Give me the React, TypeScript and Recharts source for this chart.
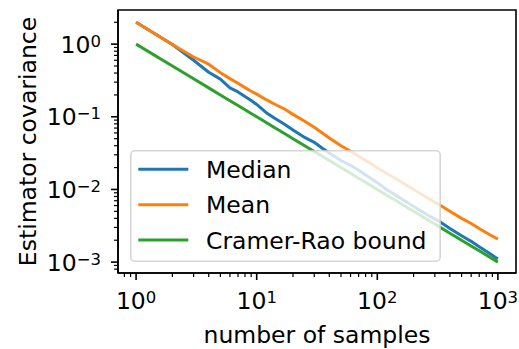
import React from 'react';
import { LineChart, Line, XAxis, YAxis, Legend, ReferenceArea } from 'recharts';

const samples = [1, 2, 3, 4, 5, 6, 7, 8, 9, 10, 12, 14, 17, 20, 25, 30, 35, 40, 50, 60, 70, 85, 100, 120, 150, 180, 220, 270, 330, 400, 500, 600, 700, 850, 1000];
const medianVar = [2.0, 0.99, 0.6, 0.41, 0.33, 0.25, 0.22, 0.19, 0.168, 0.148, 0.114, 0.096, 0.079, 0.066, 0.052, 0.0445, 0.037, 0.0318, 0.025, 0.0215, 0.0184, 0.0148, 0.0124, 0.0099, 0.0079, 0.0065, 0.0053, 0.0043, 0.0036, 0.0029, 0.0023, 0.00193, 0.00163, 0.00132, 0.0011];
const meanVar = [2.0, 0.99, 0.665, 0.53, 0.405, 0.335, 0.29, 0.252, 0.225, 0.205, 0.172, 0.15, 0.128, 0.108, 0.087, 0.072, 0.06, 0.051, 0.04, 0.0335, 0.0286, 0.0236, 0.0199, 0.0166, 0.0134, 0.0111, 0.0091, 0.0074, 0.0061, 0.005, 0.004, 0.0034, 0.0029, 0.0024, 0.00207];
const cramerRao = [1, 0.5, 0.3333, 0.25, 0.2, 0.1667, 0.1429, 0.125, 0.1111, 0.1, 0.0833, 0.0714, 0.0588, 0.05, 0.04, 0.0333, 0.0286, 0.025, 0.02, 0.0167, 0.0143, 0.0118, 0.01, 0.00833, 0.00667, 0.00556, 0.00455, 0.0037, 0.00303, 0.0025, 0.002, 0.00167, 0.00143, 0.00118, 0.001];

const seriesNames = ['Median', 'Mean', 'Cramer-Rao bound'];
const seriesColors = ['#1f77b4', '#ff7f0e', '#2ca02c'];

const xMajorTicks = [1, 10, 100, 1000];
const xMajorExp = ['0', '1', '2', '3'];
const xMinorTicks = [0.8, 0.9, 2, 3, 4, 5, 6, 7, 8, 9, 20, 30, 40, 50, 60, 70, 80, 90, 200, 300, 400, 500, 600, 700, 800, 900];
const yMajorTicks = [0.001, 0.01, 0.1, 1];
const yMajorExp = ['\u22123', '\u22122', '\u22121', '0'];
const yMinorTicks = [0.0008, 0.0009, 0.002, 0.003, 0.004, 0.005, 0.006, 0.007, 0.008, 0.009, 0.02, 0.03, 0.04, 0.05, 0.06, 0.07, 0.08, 0.09, 0.2, 0.3, 0.4, 0.5, 0.6, 0.7, 0.8, 0.9, 2];

const xDomain = [0.708, 1413];
const yDomain = [0.000708, 2.95];

const xLabel = 'number of samples';
const yLabel = 'Estimator covariance';

const FONT = '"DejaVu Sans", sans-serif';
const FS = 23.5;

const data = samples.map((n, i) => ({
  n,
  median: medianVar[i],
  mean: meanVar[i],
  crb: cramerRao[i],
}));

const XTick = (props: any) => {
  const { x, y, payload } = props;
  const idx = xMajorTicks.indexOf(payload.value);
  const major = idx >= 0;
  return (
    <g>
      <line x1={x} x2={x} y1={y} y2={y + (major ? 7 : 4)} stroke="#000" strokeWidth={major ? 1.6 : 1.2} />
      {major && (
        <text x={x} y={y + 36.3} textAnchor="middle" fontFamily={FONT} fontSize={FS} fill="#000">
          <tspan>10</tspan>
          <tspan dy={-6} fontSize={16.5}>{xMajorExp[idx]}</tspan>
        </text>
      )}
    </g>
  );
};

const YTick = (props: any) => {
  const { x, y, payload } = props;
  const idx = yMajorTicks.indexOf(payload.value);
  const major = idx >= 0;
  return (
    <g>
      <line x1={x} x2={x - (major ? 7 : 4)} y1={y} y2={y} stroke="#000" strokeWidth={major ? 1.6 : 1.2} />
      {major && (
        <text x={x - 17} y={y + 8.5} textAnchor="end" fontFamily={FONT} fontSize={FS} fill="#000">
          <tspan>10</tspan>
          <tspan dy={-6} fontSize={16.5}>{yMajorExp[idx]}</tspan>
        </text>
      )}
    </g>
  );
};

const LegendBox = () => (
  <svg width={311} height={112} style={{ display: 'block' }}>
    <rect x={0.8} y={0.8} width={309.4} height={110.4} rx={4} ry={4} fill="#ffffff" fillOpacity={0.8} stroke="#cccccc" strokeOpacity={0.8} strokeWidth={1.6} />
    {seriesNames.map((name, i) => {
      const cy = 19.3 + i * 35.4;
      return (
        <g key={name}>
          <line x1={8.3} x2={58.3} y1={cy} y2={cy} stroke={seriesColors[i]} strokeWidth={3} />
          <text x={76} y={cy + 8.6} fontFamily={FONT} fontSize={FS} fill="#000">{name}</text>
        </g>
      );
    })}
  </svg>
);

export default function App() {
  return (
    <div style={{ position: 'absolute', left: 8, top: 8, width: 511, height: 341 }}>
      <LineChart width={511} height={341} data={data} margin={{ top: 2, right: 3, bottom: 0, left: 0 }}>
        <XAxis
          dataKey="n"
          type="number"
          scale="log"
          domain={xDomain}
          allowDataOverflow
          ticks={[...xMajorTicks, ...xMinorTicks].sort((a, b) => a - b)}
          interval={0}
          tick={<XTick />}
          tickLine={false}
          tickSize={0}
          tickMargin={0}
          height={76}
          axisLine={{ stroke: '#000', strokeWidth: 1.6 }}
        />
        <YAxis
          type="number"
          scale="log"
          domain={yDomain}
          allowDataOverflow
          ticks={[...yMajorTicks, ...yMinorTicks].sort((a, b) => a - b)}
          interval={0}
          tick={<YTick />}
          tickLine={false}
          tickSize={0}
          tickMargin={0}
          width={110}
          axisLine={{ stroke: '#000', strokeWidth: 1.6 }}
        />
        <Line type="linear" dataKey="median" name={seriesNames[0]} stroke={seriesColors[0]} strokeWidth={3} dot={false} strokeLinejoin="round" isAnimationActive={false} />
        <Line type="linear" dataKey="mean" name={seriesNames[1]} stroke={seriesColors[1]} strokeWidth={3} dot={false} strokeLinejoin="round" isAnimationActive={false} />
        <Line type="linear" dataKey="crb" name={seriesNames[2]} stroke={seriesColors[2]} strokeWidth={3} dot={false} strokeLinejoin="round" isAnimationActive={false} />
        <ReferenceArea
          x1={xDomain[0]}
          x2={xDomain[1]}
          y1={yDomain[0]}
          y2={yDomain[1]}
          fill="none"
          fillOpacity={0}
          stroke="#000"
          strokeWidth={1.6}
          ifOverflow="visible"
        />
        <Legend
          layout="horizontal"
          verticalAlign="middle"
          align="center"
          content={<LegendBox />}
          wrapperStyle={{ position: 'absolute', left: 122, top: 142, width: 311, height: 112, margin: 0, padding: 0 }}
        />
        <text x={28} y={133.5} transform="rotate(-90 28 133.5)" textAnchor="middle" fontFamily={FONT} fontSize={FS} fill="#000">{yLabel}</text>
        <text x={309} y={334.5} textAnchor="middle" fontFamily={FONT} fontSize={FS} fill="#000">{xLabel}</text>
      </LineChart>
    </div>
  );
}
